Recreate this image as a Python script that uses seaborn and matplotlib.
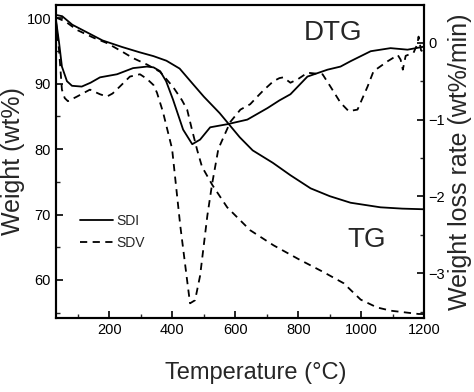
import matplotlib
matplotlib.use("Agg")
import matplotlib.pyplot as plt
from matplotlib.ticker import MultipleLocator
import seaborn as sns
import pandas as pd

# ---- data ----
tg_sdi_T = [30, 50, 82, 130, 178, 240, 295, 340, 381, 423, 464, 500, 550, 614, 655, 719,
            775, 839, 900, 966, 1061, 1130, 1200]
tg_sdi_W = [100.5, 100.3, 99.0, 97.8, 96.6, 95.6, 94.8, 94.2, 93.5, 92.3, 90.0, 88.0, 85.5,
            81.8, 79.8, 77.9, 76.0, 74.0, 72.8, 71.8, 71.1, 70.9, 70.8]

tg_sdv_T = [30, 60, 97, 150, 192, 240, 275, 320, 361, 402, 430, 447, 462, 479, 494, 527,
            574, 647, 721, 800, 880, 944, 998, 1050, 1094, 1182, 1200]
tg_sdv_W = [100.1, 99.5, 98.2, 97.0, 96.2, 94.9, 93.9, 92.9, 91.8, 89.5, 87.5, 86.0, 83.0,
            79.8, 77.3, 74.5, 71.1, 67.6, 65.3, 63.2, 61.2, 59.5, 57.0, 55.8, 55.3, 54.8, 54.8]

dtg_sdi_T = [30, 40, 49, 65, 81, 112, 140, 170, 224, 275, 319, 340, 361, 380, 402, 434, 463,
             488, 520, 574, 638, 702, 740, 775, 829, 893, 934, 966, 1030, 1093, 1147, 1200]
dtg_sdi_R = [0.30, 0.0, -0.31, -0.50, -0.56, -0.57, -0.52, -0.45, -0.41, -0.33, -0.31, -0.32,
             -0.37, -0.50, -0.74, -1.13, -1.32, -1.26, -1.10, -1.06, -1.00, -0.85, -0.75,
             -0.67, -0.44, -0.35, -0.31, -0.24, -0.11, -0.07, -0.09, -0.05]

dtg_sdv_T = [30, 40, 49, 58, 68, 97, 138, 170, 192, 210, 233, 265, 297, 319, 340, 351, 370,
             399, 425, 447, 456, 472, 488, 511, 526, 546, 584, 616, 647, 670, 689, 721, 740,
             752, 775, 800, 829, 877, 902, 934, 960, 988, 1020, 1039, 1084, 1116, 1125, 1132,
             1141, 1166, 1178, 1182, 1190, 1200]
dtg_sdv_R = [0.28, -0.1, -0.61, -0.72, -0.76, -0.70, -0.61, -0.67, -0.70, -0.66, -0.57, -0.44,
             -0.41, -0.47, -0.55, -0.65, -0.90, -1.38, -2.38, -3.10, -3.39, -3.35, -3.03,
             -2.25, -1.84, -1.38, -1.03, -0.87, -0.80, -0.70, -0.62, -0.50, -0.46, -0.45,
             -0.52, -0.47, -0.39, -0.41, -0.57, -0.78, -0.89, -0.87, -0.57, -0.37, -0.24,
             -0.16, -0.22, -0.35, -0.17, -0.13, -0.02, 0.08, -0.10, -0.12]

x_ticks = [200, 400, 600, 800, 1000, 1200]
left_ticks = [60, 70, 80, 90, 100]
right_ticks = [-3, -2, -1, 0]

# ---- styling ----
sns.set_style("ticks")
plt.rcParams["font.family"] = ["Liberation Sans", "DejaVu Sans"]
plt.rcParams["xtick.direction"] = "in"
plt.rcParams["ytick.direction"] = "in"

fig = plt.figure(figsize=(4.74, 3.92), dpi=100)
ax = fig.add_axes([0.118, 0.189, 0.777, 0.798])
ax2 = ax.twinx()

df_tg1 = pd.DataFrame({"T": tg_sdi_T, "W": tg_sdi_W})
df_tg2 = pd.DataFrame({"T": tg_sdv_T, "W": tg_sdv_W})
df_d1 = pd.DataFrame({"T": dtg_sdi_T, "R": dtg_sdi_R})
df_d2 = pd.DataFrame({"T": dtg_sdv_T, "R": dtg_sdv_R})

lw = 1.3
dash = (0, (4, 3))
sns.lineplot(data=df_tg1, x="T", y="W", ax=ax, color="black", lw=lw, label="SDI")
sns.lineplot(data=df_tg2, x="T", y="W", ax=ax, color="black", lw=lw, ls=dash, label="SDV")
sns.lineplot(data=df_d1, x="T", y="R", ax=ax2, color="black", lw=lw)
sns.lineplot(data=df_d2, x="T", y="R", ax=ax2, color="black", lw=lw, ls=dash)

ax.set_xlim(30, 1200)
ax.set_ylim(54.2, 102.0)
ax2.set_ylim(-3.58, 0.49)

ax.set_xticks(x_ticks)
ax.xaxis.set_minor_locator(MultipleLocator(100))
ax.set_yticks(left_ticks)
ax.yaxis.set_minor_locator(MultipleLocator(5))
ax2.set_yticks(right_ticks)
ax2.yaxis.set_minor_locator(MultipleLocator(0.5))

for a in (ax, ax2):
    for s in a.spines.values():
        s.set_linewidth(1.5)
        s.set_color("black")
ax.tick_params(axis="both", which="major", length=5, width=1.2, labelsize=10.5, colors="black")
ax.tick_params(axis="both", which="minor", length=3, width=1.0)
ax2.tick_params(axis="y", which="major", length=5, width=1.2, labelsize=10.5, colors="black", pad=3)
ax2.tick_params(axis="y", which="minor", length=3, width=1.0)

ax.set_xlabel("Temperature (°C)", fontsize=17)
ax.xaxis.set_label_coords(0.543, -0.14)
ax.set_ylabel("Weight (wt%)", fontsize=18, labelpad=1)
ax2.set_ylabel("Weight loss rate (wt%/min)", fontsize=18, labelpad=2)

ax.text(909, 97.7, "DTG", fontsize=20, ha="center", va="center")
ax.text(1017, 66.1, "TG", fontsize=20, ha="center", va="center")

leg = ax.legend(loc="upper left", bbox_to_anchor=(0.05, 0.35), frameon=False,
                fontsize=10, handlelength=2.4, handletextpad=0.2, labelspacing=0.6,
                borderaxespad=0)

fig.savefig("out.png", dpi=100)
